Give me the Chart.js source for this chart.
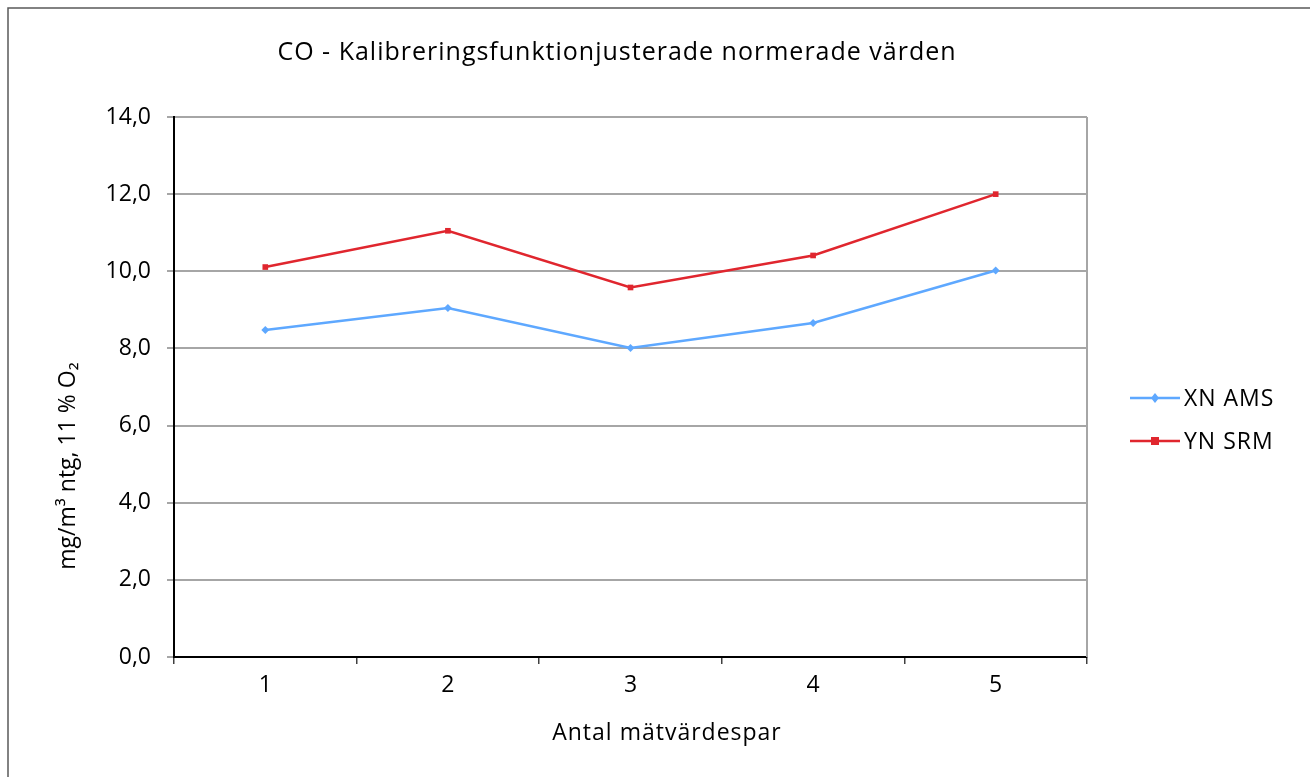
<!DOCTYPE html>
<html>
<head>
<meta charset="utf-8">
<script src="https://cdn.jsdelivr.net/npm/chart.js@4.4.0/dist/chart.umd.min.js"></script>
<style>
  html, body { margin: 0; padding: 0; background: #fff; }
  #wrap { width: 1310px; height: 777px; }
</style>
</head>
<body>
<div id="wrap"><canvas id="lineChart" width="1310" height="777"></canvas></div>
<script>
// Datos
const categorias = ['1', '2', '3', '4', '5'];
const xnAms = [8.48, 9.05, 8.01, 8.66, 10.02];
const ynSrm = [10.11, 11.05, 9.58, 10.41, 12.00];
const tituloGrafico = 'CO - Kalibreringsfunktionjusterade normerade värden';
const tituloX = 'Antal mätvärdespar';
const tituloY = 'mg/m³ ntg, 11 % O₂';

const fuente = '"Open Sans", "Noto Sans", sans-serif';

// Títulos, leyenda y marco dibujados a mano (posición como en Excel)
const extras = {
  id: 'extras',
  beforeDatasetsDraw(chart) {
    const { ctx, chartArea } = chart;
    ctx.save();
    ctx.strokeStyle = '#a6a6a6';
    ctx.lineWidth = 2;
    ctx.beginPath();
    ctx.moveTo(chartArea.right, chartArea.top);
    ctx.lineTo(chartArea.right, chartArea.bottom);
    ctx.stroke();
    ctx.restore();
  },
  afterDraw(chart) {
    const { ctx, chartArea } = chart;
    ctx.save();
    // marco exterior
    ctx.strokeStyle = '#595959';
    ctx.lineWidth = 1.5;
    ctx.beginPath();
    ctx.moveTo(8, 777);
    ctx.lineTo(8, 8);
    ctx.lineTo(1310, 8);
    ctx.stroke();

    ctx.fillStyle = '#000';
    ctx.textAlign = 'center';
    ctx.textBaseline = 'middle';
    ctx.font = '25px ' + fuente;
    ctx.letterSpacing = '1px';
    ctx.fillText(tituloGrafico, 617, 53);

    ctx.font = '23px ' + fuente;
    ctx.fillText(tituloX, 667, 733);

    ctx.letterSpacing = '0px';
    ctx.save();
    ctx.translate(68, 466);
    ctx.rotate(-Math.PI / 2);
    ctx.fillText(tituloY, 0, 0);
    ctx.restore();

    // leyenda
    const x0 = chartArea.right + 43;
    chart.data.datasets.forEach((ds, i) => {
      const y = 398 + i * 43;
      ctx.strokeStyle = ds.borderColor;
      ctx.lineWidth = 2.5;
      ctx.beginPath();
      ctx.moveTo(x0, y);
      ctx.lineTo(x0 + 50, y);
      ctx.stroke();
      ctx.fillStyle = ds.borderColor;
      const r = ds.pointRadius;
      if (ds.pointStyle === 'rect') {
        ctx.fillRect(x0 + 25 - r, y - r, 2 * r, 2 * r);
      } else {
        ctx.beginPath();
        ctx.moveTo(x0 + 25, y - r - 1);
        ctx.lineTo(x0 + 25 + r, y);
        ctx.lineTo(x0 + 25, y + r + 1);
        ctx.lineTo(x0 + 25 - r, y);
        ctx.closePath();
        ctx.fill();
      }
      ctx.fillStyle = '#000';
      ctx.textAlign = 'left';
      ctx.font = '23px ' + fuente;
      ctx.letterSpacing = '1px';
      ctx.fillText(ds.label, x0 + 54, y + 1);
    });
    ctx.restore();
  }
};

const ctx = document.getElementById('lineChart').getContext('2d');
let lineChart = new Chart(ctx, {
  type: 'line',
  data: {
    labels: categorias,
    datasets: [{
      label: 'XN AMS',
      data: xnAms,
      borderColor: '#5ea8ff',
      backgroundColor: '#5ea8ff',
      borderWidth: 2.5,
      pointStyle: 'rectRot',
      pointRadius: 4,
      pointBorderWidth: 0,
      tension: 0
    }, {
      label: 'YN SRM',
      data: ynSrm,
      borderColor: '#e0262e',
      backgroundColor: '#e0262e',
      borderWidth: 2.5,
      pointStyle: 'rect',
      pointRadius: 4,
      pointBorderWidth: 0,
      tension: 0
    }]
  },
  options: {
    responsive: false,
    animation: false,
    layout: { padding: { top: 117, right: 223, left: 0, bottom: 0 } },
    plugins: {
      legend: { display: false },
      title: { display: false },
      tooltip: { enabled: false }
    },
    scales: {
      x: {
        offset: true,
        grid: {
          offset: true,
          drawOnChartArea: false,
          drawTicks: true,
          tickLength: 7,
          color: '#404040',
          lineWidth: 1.5
        },
        border: { color: '#000', width: 2 },
        ticks: {
          color: '#000',
          padding: 8,
          font: { family: fuente, size: 23 }
        },
        afterFit(scale) { scale.height = 120; }
      },
      y: {
        min: 0,
        max: 14,
        ticks: {
          stepSize: 2,
          color: '#000',
          padding: 16,
          font: { family: fuente, size: 23 },
          callback: v => v.toFixed(1).replace('.', ',')
        },
        grid: {
          color: '#a6a6a6',
          lineWidth: 2,
          tickLength: 7
        },
        border: { color: '#000', width: 2 },
        afterFit(scale) { scale.width = 174; }
      }
    }
  },
  plugins: [extras]
});
</script>
</body>
</html>
